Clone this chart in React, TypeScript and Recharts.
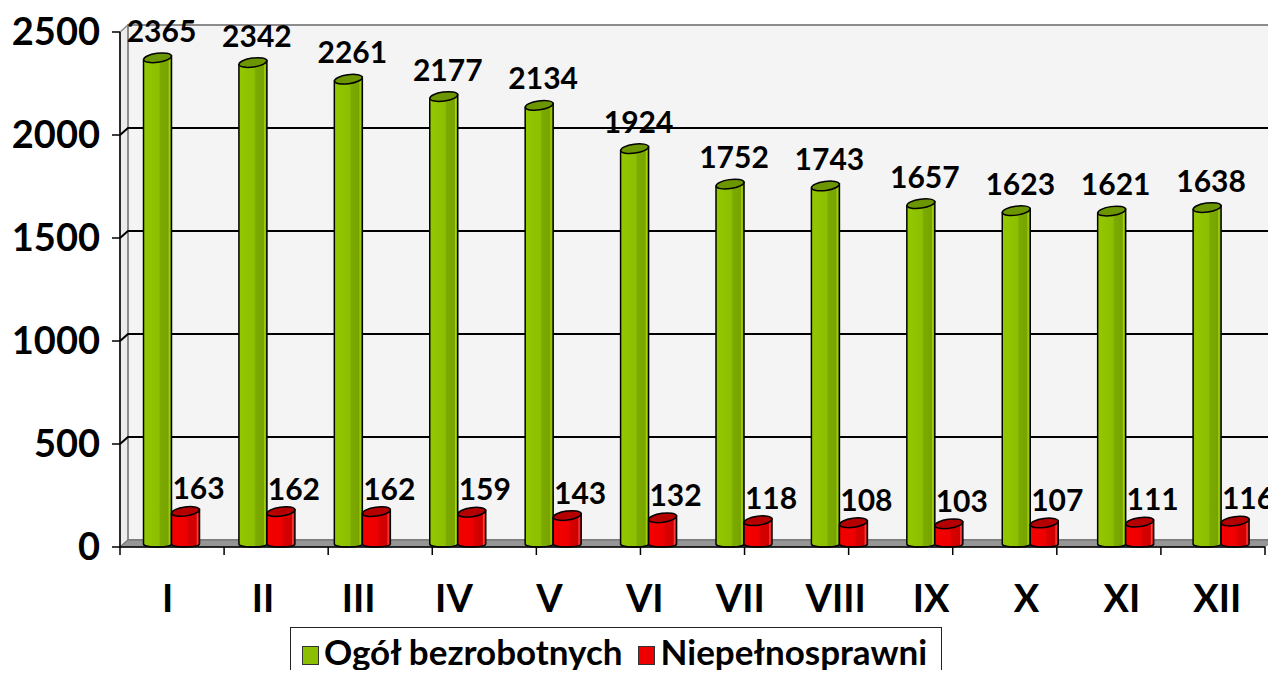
import React from 'react'
import {
  BarChart, Bar, XAxis, YAxis, CartesianGrid, Legend, LabelList, ReferenceArea,
} from 'recharts'

// months I-XII
const months = ['I', 'II', 'III', 'IV', 'V', 'VI', 'VII', 'VIII', 'IX', 'X', 'XI', 'XII']
const ogolBezrobotnych = [2365, 2342, 2261, 2177, 2134, 1924, 1752, 1743, 1657, 1623, 1621, 1638]
const niepelnosprawni = [163, 162, 162, 159, 143, 132, 118, 108, 103, 107, 111, 116]
const yTicks = [0, 500, 1000, 1500, 2000, 2500]
const boundaryTicks = [0, 1, 2, 3, 4, 5, 6, 7, 8, 9, 10, 11, 12]

const data = months.map((m, i) => ({
  month: m,
  total: ogolBezrobotnych[i],
  disabled: niepelnosprawni[i],
}))

const FONT = 'Lato, "Liberation Sans", Arial, sans-serif'
const DEPTH_X = 8
const DEPTH_Y = -7
const SHIFT = 3.5

// 3d wall + left side + floor behind the plot
const Walls = (props: any) => {
  const { x, y, width, height } = props
  const b = y + height
  return (
    <g>
      <polygon
        points={`${x},${b} ${x},${y} ${x + DEPTH_X},${y + DEPTH_Y} ${x + DEPTH_X},${b + DEPTH_Y}`}
        fill="#ececec" stroke="#8c8c8c" strokeWidth={1.5}
      />
      <rect x={x + DEPTH_X} y={y + DEPTH_Y} width={width} height={height}
        fill="#f4f4f4" stroke="#8c8c8c" strokeWidth={2} />
      <polygon
        points={`${x},${b} ${x + width},${b} ${x + width + DEPTH_X},${b + DEPTH_Y} ${x + DEPTH_X},${b + DEPTH_Y}`}
        fill="#969696" stroke="#6e6e6e" strokeWidth={1}
      />
    </g>
  )
}

const gridLine = (props: any) => {
  const { x1, y1, x2, key } = props
  if (props.y !== undefined && (Math.abs(y1 - props.y) < 1 || Math.abs(y1 - (props.y + props.height)) < 1)) {
    return <g key={key} />
  }
  return (
    <polyline
      key={key}
      points={`${x1},${y1} ${x1 + DEPTH_X},${y1 + DEPTH_Y} ${x2 + DEPTH_X},${y1 + DEPTH_Y}`}
      fill="none" stroke="#000" strokeWidth={2}
    />
  )
}

const makeCylinder = (id: string, stops: [number, string][], top: string) => (props: any) => {
  const { x, y, width, height } = props
  if (!height || height <= 0) return <g />
  const cx = x + SHIFT
  const w = width
  const ty = y - 2
  const bottom = y + height - 3
  const tilt = 2
  return (
    <g>
      <defs>
        <linearGradient id={id} x1="0" x2="1" y1="0" y2="0">
          {stops.map(([o, c], i) => <stop key={i} offset={o} stopColor={c} />)}
        </linearGradient>
      </defs>
      <path
        d={`M${cx},${ty + tilt} L${cx},${bottom} A${w / 2},3 0 0 0 ${cx + w},${bottom} L${cx + w},${ty - tilt} Z`}
        fill={`url(#${id})`} stroke="#000" strokeWidth={1.5}
      />
      <ellipse
        cx={cx + w / 2} cy={ty} rx={w / 2} ry={4.5}
        transform={`rotate(-8 ${cx + w / 2} ${ty})`}
        fill={top} stroke="#000" strokeWidth={1.5}
      />
    </g>
  )
}

const GreenCyl = makeCylinder('gGreen', [
  [0, '#93c800'], [0.55, '#8cbf00'], [0.6, '#7caa00'], [0.88, '#78a300'], [0.92, '#a2d60c'], [1, '#6f9800'],
], '#6c9600')

const RedCyl = makeCylinder('gRed', [
  [0, '#f40000'], [0.55, '#ee0000'], [0.6, '#d60000'], [0.88, '#d00000'], [0.92, '#ff4040'], [1, '#c00000'],
], '#b40000')

const makeLabel = (dx: number, dy: number) => (props: any) => {
  const { x, y, width, value } = props
  return (
    <text
      x={x + width / 2 + SHIFT + dx} y={y - dy}
      textAnchor="middle" fontSize={30} fontWeight={700} fill="#000"
      style={{ fontFamily: FONT }}
    >
      {value}
    </text>
  )
}

const MonthTick = (props: any) => {
  const { x, y, payload } = props
  return (
    <text x={x} y={y + 64} textAnchor="middle" fontSize={38} fontWeight={700} fill="#000"
      style={{ fontFamily: FONT }}>
      {payload.value}
    </text>
  )
}

const NoTick = () => <g />

const LegendBox = () => (
  <div style={{
    boxSizing: 'border-box', width: 652, height: 70, border: '1.5px solid #222',
    background: '#fff', display: 'flex', alignItems: 'flex-start', paddingTop: 5, paddingLeft: 11,
    fontFamily: FONT, fontWeight: 700, fontSize: 35, lineHeight: '36px', color: '#000',
  }}>
    <span style={{ width: 17, height: 19, background: '#8cbf00', border: '1px solid #333', boxSizing: 'border-box', marginTop: 13, flexShrink: 0 }} />
    <span style={{ marginLeft: 5 }}>Ogół bezrobotnych</span>
    <span style={{ width: 17, height: 19, background: '#ee0000', border: '1px solid #333', boxSizing: 'border-box', marginTop: 13, marginLeft: 15, flexShrink: 0 }} />
    <span style={{ marginLeft: 6 }}>Niepełnosprawni</span>
  </div>
)

export default function App() {
  return (
    <div style={{ margin: -8, width: 1276, height: 678, background: '#fff', overflow: 'hidden' }}>
      <BarChart
        width={1276}
        height={678}
        data={data}
        margin={{ top: 32, right: 11, left: 0, bottom: 129 }}
        barSize={28}
        barGap={0}
      >
        <ReferenceArea yAxisId="y" xAxisId="cat" y1={0} y2={2500} shape={Walls} ifOverflow="visible" zIndex={-300} />
        <CartesianGrid yAxisId="y" xAxisId="cat" vertical={false} horizontal={gridLine} />
        <XAxis xAxisId="b" type="number" domain={[0, 12]} ticks={boundaryTicks}
          height={1} tick={NoTick} tickSize={8} tickLine={{ stroke: '#000', strokeWidth: 1.5 }}
          axisLine={{ stroke: '#000', strokeWidth: 1.5 }} allowDataOverflow interval={0} />
        <XAxis xAxisId="cat" dataKey="month" height={1} tickSize={0} tickMargin={0}
          tickLine={false} axisLine={false} tick={MonthTick} interval={0} />
        <YAxis yAxisId="y" domain={[0, 2500]} ticks={yTicks} width={120} tickSize={8} tickMargin={12}
          axisLine={{ stroke: '#000', strokeWidth: 1.5 }} tickLine={{ stroke: '#000', strokeWidth: 1.5 }}
          tick={{ fontSize: 38, fontWeight: 700, fill: '#000', fontFamily: FONT }} />
        <Legend layout="horizontal" verticalAlign="middle" align="center"
          wrapperStyle={{ top: 627, left: 290, width: 652 }} content={<LegendBox />} />
        <Bar xAxisId="cat" yAxisId="y" dataKey="total" name="Ogół bezrobotnych" fill="#8cbf00"
          shape={GreenCyl} isAnimationActive={false}>
          <LabelList dataKey="total" content={makeLabel(4, 18)} />
        </Bar>
        <Bar xAxisId="cat" yAxisId="y" dataKey="disabled" name="Niepełnosprawni" fill="#ee0000"
          shape={RedCyl} isAnimationActive={false}>
          <LabelList dataKey="disabled" content={makeLabel(13, 14)} />
        </Bar>
      </BarChart>
    </div>
  )
}
